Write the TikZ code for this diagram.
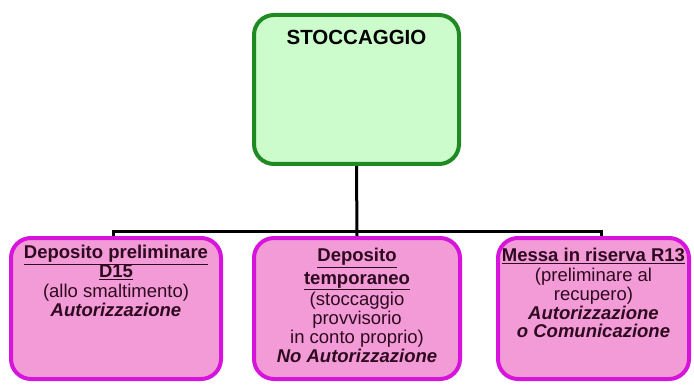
\documentclass[tikz,border=0pt]{standalone}
\usepackage{fontspec}
\setmainfont{Liberation Sans}
\usetikzlibrary{positioning}

\definecolor{verdebordo}{HTML}{1F8A22}
\definecolor{verdefondo}{HTML}{CCFBCC}
\definecolor{rosabordo}{HTML}{D614DC}
\definecolor{rosafondo}{HTML}{F39BD6}
\definecolor{testoscuro}{HTML}{2E0A20}

\begin{document}
\begin{tikzpicture}[x=1pt,y=-1pt,
    casella/.style={draw, line width=4pt, rounded corners=20pt, inner sep=0pt},
    verde/.style={casella, draw=verdebordo, fill=verdefondo,
        minimum width=205pt, minimum height=149pt},
    rosa/.style={casella, draw=rosabordo, fill=rosafondo, minimum height=141pt},
    testo/.style={anchor=north, inner sep=0pt, align=center, text=testoscuro,
        font=\fontsize{18.5}{18.8}\selectfont},
    linea/.style={draw=black, line width=3pt}]
    \useasboundingbox (0,0) rectangle (694,385);

    % casella principale
    \node [verde, label={[testo, text=black, yshift=-17pt,
        font=\fontsize{20.5}{22}\selectfont\bfseries]north:STOCCAGGIO}] (stocc) at (356.5,89.5) {};

    % le tre caselle di sotto
    \node [rosa, minimum width=206pt, label={[testo, yshift=-12pt]north:%
        {\textbf{\underline{Deposito}}\\[4pt] \textbf{\underline{temporaneo}}\\[1pt] (stoccaggio\\ provvisorio\\
         in conto proprio)\\ \textbf{\itshape No Autorizzazione}}}] (temp) at (357,308.5) {};
    \node [rosa, minimum width=210pt, left=29pt of temp, label={[testo, yshift=-9pt]north:%
        {\textbf{\underline{Deposito preliminare}}\\ \textbf{\underline{D15}}\\[1pt] (allo smaltimento)\\
         \textbf{\itshape Autorizzazione}}}] (prel) {};
    \node [rosa, minimum width=191pt, right=34pt of temp, label={[testo, yshift=-12pt]north:%
        {\textbf{\underline{Messa in riserva R13}}\\[1pt] (preliminare al\\ recupero)\\
         \textbf{\itshape Autorizzazione}\\ \textbf{\itshape o Comunicazione}}}] (ris) {};

    % collegamenti
    \coordinate (bus) at (0,231);
    \draw [linea] (stocc.south) -- (temp.north);
    \draw [linea] ([xshift=-3pt]prel.north) |- ([xshift=8pt]ris.north |- bus) -- ([xshift=8pt]ris.north);
\end{tikzpicture}
\end{document}
